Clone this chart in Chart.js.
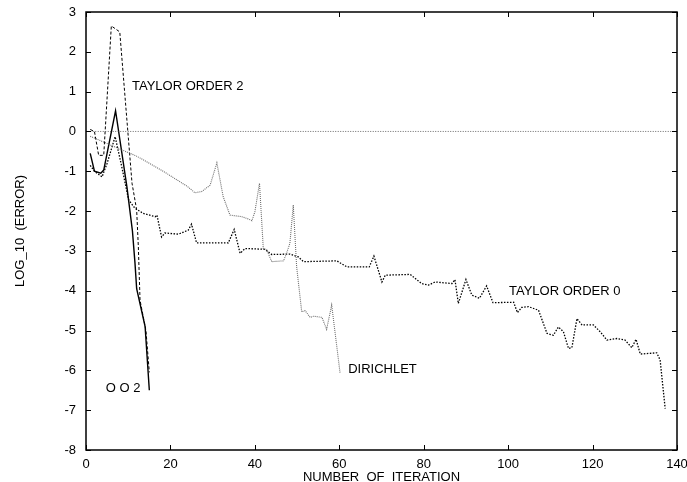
<!DOCTYPE html>
<html>
<head>
<meta charset="utf-8">
<script src="https://cdn.jsdelivr.net/npm/chart.js@4.4.0/dist/chart.umd.min.js"></script>
<style>
  html, body { margin: 0; padding: 0; background: #fff; }
</style>
</head>
<body>
<canvas id="chart-error" width="687" height="482"></canvas>
<script>
// tick labels
const xTicks = [0, 20, 40, 60, 80, 100, 120, 140];
const yTicks = [-8, -7, -6, -5, -4, -3, -2, -1, 0, 1, 2, 3];

// reference line at log10(error) = 0
const zeroX = [1, 140];
const zeroY = [0, 0];

// OO2 (solid)
const oo2X = [1, 2, 3.5, 4.2, 7, 9.7, 11, 11.6, 12, 14, 15];
const oo2Y = [-0.55, -1.0, -1.05, -0.97, 0.52, -1.4, -2.5, -3.3, -3.95, -4.9, -6.5];

// Taylor order 2 (dashed)
const taylor2X = [1, 2, 3, 4.2, 6, 8, 10.9, 12, 12.4, 12.8, 14.2, 15];
const taylor2Y = [0.05, 0.0, -0.6, -0.6, 2.65, 2.5, -1.3, -1.97, -2.9, -4.24, -5.0, -6.05];

// Taylor order 0 (dotted)
const taylor0X = [1, 2, 3.8, 5, 6.9, 8.5, 10.1, 11.6, 13.6, 16.4, 16.8, 17.9, 18.7, 21.9, 24.2, 25,
  26.2, 33.7, 35.1, 36.5, 37.7, 42.4, 44, 48.3, 50.3, 51.5, 59.4, 61.8, 67.1, 68.2, 70.1, 70.9,
  76.8, 79.5, 81.1, 82.7, 86.7, 87.4, 88.2, 90, 91.4, 93.2, 94.9, 96.4, 101.3, 102.2, 103.2, 104.8,
  107.2, 109.2, 110.7, 111.9, 113.1, 114.3, 115.1, 116.3, 117.5, 120.2, 121.8, 123.4, 125.8, 127.7,
  129.3, 130.3, 131.3, 135.2, 136, 137.2];
const taylor0Y = [-0.85, -1.0, -1.14, -0.8, -0.13, -0.9, -1.72, -1.93, -2.06, -2.14, -2.1, -2.65, -2.55, -2.58, -2.48, -2.33,
  -2.8, -2.8, -2.46, -3.06, -2.94, -2.96, -3.09, -3.08, -3.15, -3.27, -3.25, -3.4, -3.4, -3.13, -3.78, -3.61,
  -3.59, -3.82, -3.86, -3.78, -3.82, -3.72, -4.32, -3.72, -4.11, -4.19, -3.88, -4.3, -4.29, -4.55, -4.42, -4.4,
  -4.49, -5.07, -5.12, -4.91, -5.03, -5.45, -5.43, -4.7, -4.86, -4.86, -5.03, -5.24, -5.2, -5.24,
  -5.43, -5.22, -5.59, -5.56, -5.74, -6.96];

// Dirichlet (grey dotted)
const dirichletX = [1, 6, 12, 18, 24, 25.8, 27.4, 29.4, 31, 32.5, 34.1, 36.9, 38.5, 39.3, 40, 41.1, 42,
  42.8, 44, 46.8, 47.5, 48.3, 49.1, 49.9, 51.1, 51.9, 53.1, 53.9, 55.9, 57, 58.2, 60.2];
const dirichletY = [-0.12, -0.35, -0.62, -0.98, -1.38, -1.54, -1.51, -1.35, -0.79, -1.64, -2.1, -2.14, -2.2, -2.24, -2.02, -1.3, -2.94,
  -2.97, -3.27, -3.25, -3.06, -2.81, -1.85, -3.4, -4.53, -4.5, -4.67, -4.64, -4.67, -4.97, -4.36, -6.08];

// curve names written on the plot, anchored in data units
const noteText = ['TAYLOR ORDER 2', 'TAYLOR ORDER 0', 'DIRICHLET', 'O O 2'];
const noteAt = [[10.9, 1.12], [100.2, -4.01], [62.1, -5.97], [4.7, -6.45]];

const FONT = '"Liberation Sans", Arial, Helvetica, sans-serif';
const pts = (xs, ys) => xs.map((v, i) => ({x: v, y: ys[i]}));

// gnuplot style frame: box, inward ticks on all sides, curve labels
const framePlugin = {
  id: 'frame',
  afterDatasetsDraw(chart) {
    const {ctx, chartArea: a} = chart;
    const sx = chart.scales.x, sy = chart.scales.y;
    ctx.save();
    ctx.strokeStyle = '#000';
    ctx.lineWidth = 1;
    ctx.beginPath();
    xTicks.forEach(v => {
      const p = Math.round(sx.getPixelForValue(v)) + 0.5;
      ctx.moveTo(p, a.bottom); ctx.lineTo(p, a.bottom - 5);
      ctx.moveTo(p, a.top); ctx.lineTo(p, a.top + 5);
    });
    yTicks.forEach(v => {
      const p = Math.round(sy.getPixelForValue(v)) + 0.5;
      ctx.moveTo(a.left, p); ctx.lineTo(a.left + 5, p);
      ctx.moveTo(a.right, p); ctx.lineTo(a.right - 5, p);
    });
    ctx.stroke();
    ctx.lineWidth = 1.5;
    ctx.strokeRect(a.left, a.top, a.right - a.left, a.bottom - a.top);

    ctx.fillStyle = '#000';
    ctx.font = '13px ' + FONT;
    ctx.textAlign = 'left';
    ctx.textBaseline = 'middle';
    noteText.forEach((t, i) => {
      ctx.fillText(t, sx.getPixelForValue(noteAt[i][0]), sy.getPixelForValue(noteAt[i][1]));
    });
    ctx.restore();
  }
};

const ctx_err = document.getElementById('chart-error');

new Chart(ctx_err, {
  type: 'line',
  data: {
    datasets: [
      { label: 'zero', data: pts(zeroX, zeroY), borderColor: '#444', borderWidth: 0.8, borderDash: [1, 1.5] },
      { label: 'Dirichlet', data: pts(dirichletX, dirichletY), borderColor: '#6e6e6e', borderWidth: 1.1, borderDash: [1, 1] },
      { label: 'Taylor order 0', data: pts(taylor0X, taylor0Y), borderColor: '#000', borderWidth: 1.3, borderDash: [1.5, 1.5] },
      { label: 'Taylor order 2', data: pts(taylor2X, taylor2Y), borderColor: '#000', borderWidth: 1, borderDash: [3, 2] },
      { label: 'OO2', data: pts(oo2X, oo2Y), borderColor: '#000', borderWidth: 1.4 }
    ]
  },
  options: {
    responsive: false,
    animation: false,
    devicePixelRatio: 1,
    layout: { padding: { left: 0, right: 10, top: 12, bottom: 0 } },
    elements: { point: { radius: 0 }, line: { tension: 0, fill: false } },
    plugins: { legend: { display: false }, tooltip: { enabled: false } },
    scales: {
      x: {
        type: 'linear', min: 0, max: 140,
        grid: { display: false, drawTicks: false },
        border: { display: false },
        ticks: { stepSize: 20, padding: 7, color: '#000', maxRotation: 0, font: { family: FONT, size: 13 } },
        title: { display: true, text: 'NUMBER  OF  ITERATION', color: '#000',
                 font: { family: FONT, size: 13, lineHeight: 1 }, padding: { top: 0, bottom: -2 } },
        afterFit(scale) { scale.height = 32; scale.paddingLeft = 0; scale.paddingRight = 0; }
      },
      y: {
        type: 'linear', min: -8, max: 3,
        grid: { display: false, drawTicks: false },
        border: { display: false },
        ticks: { stepSize: 1, padding: 10, color: '#000', font: { family: FONT, size: 13 } },
        title: { display: true, text: 'LOG_10  (ERROR)', color: '#000',
                 font: { family: FONT, size: 13, lineHeight: 1 }, padding: { top: 13.5, bottom: 0 } },
        afterFit(scale) { scale.width = 86; scale.paddingTop = 0; scale.paddingBottom = 0; }
      }
    }
  },
  plugins: [framePlugin]
});
</script>
</body>
</html>
